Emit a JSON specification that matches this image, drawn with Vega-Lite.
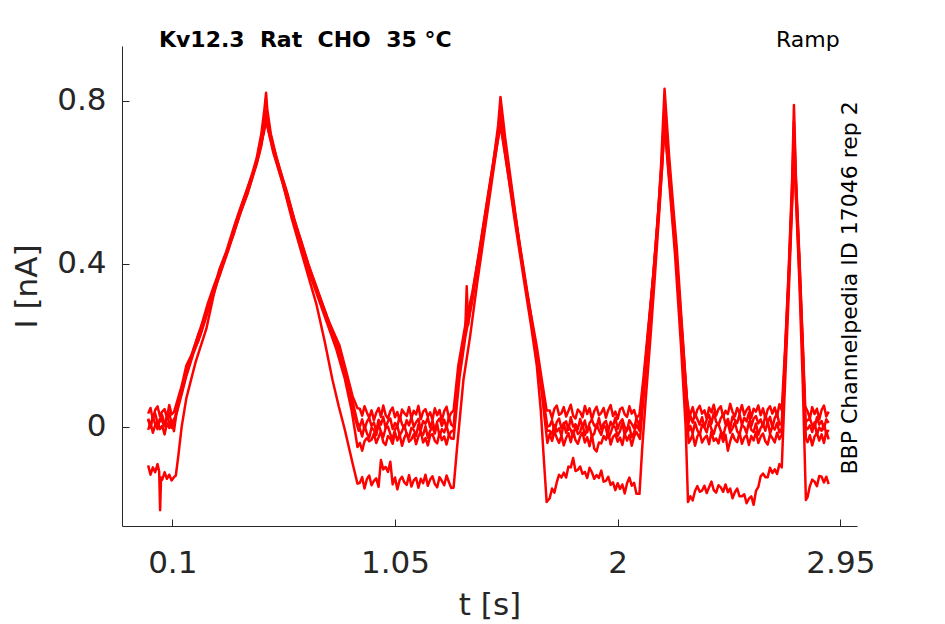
{
  "$schema": "https://vega.github.io/schema/vega-lite/v6.json",
  "autosize": "none",
  "width": 735,
  "height": 480,
  "padding": {"left": 122, "top": 46, "right": 88, "bottom": 98},
  "background": "white",
  "config": {
    "view": {"stroke": null},
    "axis": {
      "grid": false,
      "domainColor": "#262626",
      "tickColor": "#262626",
      "labelColor": "#262626",
      "titleColor": "#262626",
      "labelFont": "DejaVu Sans",
      "titleFont": "DejaVu Sans",
      "labelFontSize": 31,
      "titleFontSize": 31,
      "titleFontWeight": "normal",
      "tickSize": -7,
      "domainWidth": 1,
      "tickWidth": 1
    }
  },
  "layer": [
    {
      "data": {
        "values": [
          {"run":"A","t":-0.003,"I":0.032},{"run":"A","t":0.007,"I":0.046},{"run":"A","t":0.017,"I":0.018},{"run":"A","t":0.027,"I":0.041},{"run":"A","t":0.037,"I":0.05},{"run":"A","t":0.047,"I":0.026},{"run":"A","t":0.057,"I":0.037},{"run":"A","t":0.067,"I":0.043},{"run":"A","t":0.077,"I":0.022},{"run":"A","t":0.087,"I":0.053},{"run":"A","t":0.097,"I":0.03},{"run":"A","t":0.107,"I":0.036},
          {"run":"A","t":0.117,"I":0.055},{"run":"A","t":0.14,"I":0.1},{"run":"A","t":0.16,"I":0.15},{"run":"A","t":0.185,"I":0.18},{"run":"A","t":0.21,"I":0.225},{"run":"A","t":0.233,"I":0.26},{"run":"A","t":0.26,"I":0.31},{"run":"A","t":0.28,"I":0.34},{"run":"A","t":0.3,"I":0.385},{"run":"A","t":0.33,"I":0.43},{"run":"A","t":0.36,"I":0.485},{"run":"A","t":0.386,"I":0.53},{"run":"A","t":0.42,"I":0.585},{"run":"A","t":0.44,"I":0.62},{"run":"A","t":0.46,"I":0.66},{"run":"A","t":0.48,"I":0.72},{"run":"A","t":0.493,"I":0.78},{"run":"A","t":0.5,"I":0.82},
          {"run":"A","t":0.505,"I":0.78},{"run":"A","t":0.52,"I":0.72},{"run":"A","t":0.545,"I":0.66},{"run":"A","t":0.57,"I":0.61},{"run":"A","t":0.6,"I":0.55},{"run":"A","t":0.63,"I":0.49},{"run":"A","t":0.655,"I":0.445},{"run":"A","t":0.69,"I":0.38},{"run":"A","t":0.728,"I":0.32},{"run":"A","t":0.77,"I":0.255},{"run":"A","t":0.813,"I":0.2},{"run":"A","t":0.84,"I":0.14},{"run":"A","t":0.869,"I":0.075},{"run":"A","t":0.89,"I":0.045},
          {"run":"A","t":0.9,"I":0.044},{"run":"A","t":0.91,"I":0.027},{"run":"A","t":0.92,"I":0.05},{"run":"A","t":0.93,"I":0.035},{"run":"A","t":0.94,"I":0.022},{"run":"A","t":0.95,"I":0.04},{"run":"A","t":0.96,"I":0.016},{"run":"A","t":0.97,"I":0.034},{"run":"A","t":0.98,"I":0.046},{"run":"A","t":0.99,"I":0.024},{"run":"A","t":1.0,"I":0.052},{"run":"A","t":1.01,"I":0.029},{"run":"A","t":1.02,"I":0.02},{"run":"A","t":1.03,"I":0.038},{"run":"A","t":1.04,"I":0.047},{"run":"A","t":1.05,"I":0.023},{"run":"A","t":1.06,"I":0.036},{"run":"A","t":1.07,"I":0.014},{"run":"A","t":1.08,"I":0.042},{"run":"A","t":1.09,"I":0.033},{"run":"A","t":1.1,"I":0.026},{"run":"A","t":1.11,"I":0.048},{"run":"A","t":1.12,"I":0.021},{"run":"A","t":1.13,"I":0.039},{"run":"A","t":1.14,"I":0.03},{"run":"A","t":1.15,"I":0.051},{"run":"A","t":1.16,"I":0.018},{"run":"A","t":1.17,"I":0.037},{"run":"A","t":1.18,"I":0.043},{"run":"A","t":1.19,"I":0.025},{"run":"A","t":1.2,"I":0.035},{"run":"A","t":1.21,"I":0.017},{"run":"A","t":1.22,"I":0.045},{"run":"A","t":1.23,"I":0.028},{"run":"A","t":1.24,"I":0.041},{"run":"A","t":1.25,"I":0.015},{"run":"A","t":1.26,"I":0.038},{"run":"A","t":1.27,"I":0.049},{"run":"A","t":1.28,"I":0.022},{"run":"A","t":1.29,"I":0.034},
          {"run":"A","t":1.3,"I":0.04},{"run":"A","t":1.32,"I":0.15},{"run":"A","t":1.35,"I":0.25},{"run":"A","t":1.38,"I":0.33},{"run":"A","t":1.41,"I":0.43},{"run":"A","t":1.44,"I":0.54},{"run":"A","t":1.47,"I":0.65},{"run":"A","t":1.49,"I":0.74},{"run":"A","t":1.5,"I":0.81},
          {"run":"A","t":1.52,"I":0.71},{"run":"A","t":1.55,"I":0.58},{"run":"A","t":1.582,"I":0.445},{"run":"A","t":1.61,"I":0.34},{"run":"A","t":1.635,"I":0.26},{"run":"A","t":1.654,"I":0.2},{"run":"A","t":1.675,"I":0.12},{"run":"A","t":1.697,"I":0.04},
          {"run":"A","t":1.71,"I":0.04},{"run":"A","t":1.72,"I":0.021},{"run":"A","t":1.73,"I":0.044},{"run":"A","t":1.74,"I":0.052},{"run":"A","t":1.75,"I":0.029},{"run":"A","t":1.76,"I":0.033},{"run":"A","t":1.77,"I":0.048},{"run":"A","t":1.78,"I":0.025},{"run":"A","t":1.79,"I":0.039},{"run":"A","t":1.8,"I":0.054},{"run":"A","t":1.81,"I":0.027},{"run":"A","t":1.82,"I":0.02},{"run":"A","t":1.83,"I":0.042},{"run":"A","t":1.84,"I":0.036},{"run":"A","t":1.85,"I":0.023},{"run":"A","t":1.86,"I":0.051},{"run":"A","t":1.87,"I":0.031},{"run":"A","t":1.88,"I":0.045},{"run":"A","t":1.89,"I":0.018},{"run":"A","t":1.9,"I":0.038},{"run":"A","t":1.91,"I":0.049},{"run":"A","t":1.92,"I":0.028},{"run":"A","t":1.93,"I":0.034},{"run":"A","t":1.94,"I":0.046},{"run":"A","t":1.95,"I":0.022},{"run":"A","t":1.96,"I":0.041},{"run":"A","t":1.97,"I":0.053},{"run":"A","t":1.98,"I":0.026},{"run":"A","t":1.99,"I":0.037},{"run":"A","t":2.0,"I":0.019},{"run":"A","t":2.01,"I":0.043},{"run":"A","t":2.02,"I":0.047},{"run":"A","t":2.03,"I":0.03},{"run":"A","t":2.04,"I":0.024},{"run":"A","t":2.05,"I":0.05},{"run":"A","t":2.06,"I":0.032},{"run":"A","t":2.07,"I":0.041},{"run":"A","t":2.08,"I":0.021},
          {"run":"A","t":2.093,"I":0.03},{"run":"A","t":2.11,"I":0.12},{"run":"A","t":2.13,"I":0.24},{"run":"A","t":2.15,"I":0.36},{"run":"A","t":2.17,"I":0.5},{"run":"A","t":2.185,"I":0.64},{"run":"A","t":2.2,"I":0.83},
          {"run":"A","t":2.22,"I":0.66},{"run":"A","t":2.24,"I":0.52},{"run":"A","t":2.252,"I":0.44},{"run":"A","t":2.275,"I":0.24},{"run":"A","t":2.295,"I":0.07},{"run":"A","t":2.303,"I":0.04},
          {"run":"A","t":2.31,"I":0.03},{"run":"A","t":2.32,"I":0.048},{"run":"A","t":2.33,"I":0.023},{"run":"A","t":2.34,"I":0.042},{"run":"A","t":2.35,"I":0.051},{"run":"A","t":2.36,"I":0.032},{"run":"A","t":2.37,"I":0.04},{"run":"A","t":2.38,"I":0.019},{"run":"A","t":2.39,"I":0.047},{"run":"A","t":2.4,"I":0.035},{"run":"A","t":2.41,"I":0.054},{"run":"A","t":2.42,"I":0.027},{"run":"A","t":2.43,"I":0.043},{"run":"A","t":2.44,"I":0.05},{"run":"A","t":2.45,"I":0.024},{"run":"A","t":2.46,"I":0.039},{"run":"A","t":2.47,"I":0.031},{"run":"A","t":2.48,"I":0.056},{"run":"A","t":2.49,"I":0.036},{"run":"A","t":2.5,"I":0.025},{"run":"A","t":2.51,"I":0.046},{"run":"A","t":2.52,"I":0.033},{"run":"A","t":2.53,"I":0.053},{"run":"A","t":2.54,"I":0.029},{"run":"A","t":2.55,"I":0.041},{"run":"A","t":2.56,"I":0.049},{"run":"A","t":2.57,"I":0.022},{"run":"A","t":2.58,"I":0.044},{"run":"A","t":2.59,"I":0.037},{"run":"A","t":2.6,"I":0.052},{"run":"A","t":2.61,"I":0.028},{"run":"A","t":2.62,"I":0.045},{"run":"A","t":2.63,"I":0.02},{"run":"A","t":2.64,"I":0.042},{"run":"A","t":2.65,"I":0.05},{"run":"A","t":2.66,"I":0.032},{"run":"A","t":2.67,"I":0.047},{"run":"A","t":2.68,"I":0.026},{"run":"A","t":2.69,"I":0.055},
          {"run":"A","t":2.70,"I":0.04},{"run":"A","t":2.715,"I":0.2},{"run":"A","t":2.73,"I":0.39},{"run":"A","t":2.745,"I":0.62},{"run":"A","t":2.752,"I":0.79},{"run":"A","t":2.76,"I":0.62},{"run":"A","t":2.775,"I":0.42},{"run":"A","t":2.79,"I":0.2},{"run":"A","t":2.80,"I":0.05},
          {"run":"A","t":2.81,"I":0.038},{"run":"A","t":2.82,"I":0.02},{"run":"A","t":2.83,"I":0.048},{"run":"A","t":2.84,"I":0.031},{"run":"A","t":2.85,"I":0.044},{"run":"A","t":2.86,"I":0.018},{"run":"A","t":2.87,"I":0.041},{"run":"A","t":2.88,"I":0.052},{"run":"A","t":2.89,"I":0.025},{"run":"A","t":2.9,"I":0.037},

          {"run":"B","t":-0.003,"I":0.02},{"run":"B","t":0.007,"I":0.001},{"run":"B","t":0.017,"I":0.024},{"run":"B","t":0.027,"I":0.032},{"run":"B","t":0.037,"I":0.009},{"run":"B","t":0.047,"I":0.013},{"run":"B","t":0.057,"I":0.028},{"run":"B","t":0.067,"I":0.005},{"run":"B","t":0.077,"I":0.019},{"run":"B","t":0.087,"I":0.034},{"run":"B","t":0.097,"I":0.007},{"run":"B","t":0.107,"I":0.0},
          {"run":"B","t":0.117,"I":0.04},{"run":"B","t":0.14,"I":0.085},{"run":"B","t":0.16,"I":0.13},{"run":"B","t":0.19,"I":0.185},{"run":"B","t":0.21,"I":0.21},{"run":"B","t":0.24,"I":0.265},{"run":"B","t":0.27,"I":0.325},{"run":"B","t":0.3,"I":0.37},{"run":"B","t":0.33,"I":0.425},{"run":"B","t":0.36,"I":0.47},{"run":"B","t":0.39,"I":0.525},{"run":"B","t":0.42,"I":0.57},{"run":"B","t":0.45,"I":0.63},{"run":"B","t":0.47,"I":0.67},{"run":"B","t":0.49,"I":0.73},{"run":"B","t":0.502,"I":0.78},
          {"run":"B","t":0.51,"I":0.74},{"run":"B","t":0.53,"I":0.69},{"run":"B","t":0.56,"I":0.63},{"run":"B","t":0.59,"I":0.575},{"run":"B","t":0.62,"I":0.51},{"run":"B","t":0.65,"I":0.455},{"run":"B","t":0.68,"I":0.4},{"run":"B","t":0.72,"I":0.335},{"run":"B","t":0.76,"I":0.27},{"run":"B","t":0.8,"I":0.21},{"run":"B","t":0.84,"I":0.135},{"run":"B","t":0.87,"I":0.06},{"run":"B","t":0.89,"I":0.01},
          {"run":"B","t":0.9,"I":0.0},{"run":"B","t":0.91,"I":0.018},{"run":"B","t":0.92,"I":-0.007},{"run":"B","t":0.93,"I":0.012},{"run":"B","t":0.94,"I":0.021},{"run":"B","t":0.95,"I":0.002},{"run":"B","t":0.96,"I":0.01},{"run":"B","t":0.97,"I":-0.011},{"run":"B","t":0.98,"I":0.017},{"run":"B","t":0.99,"I":0.005},{"run":"B","t":1.0,"I":0.024},{"run":"B","t":1.01,"I":-0.003},{"run":"B","t":1.02,"I":0.013},{"run":"B","t":1.03,"I":0.02},{"run":"B","t":1.04,"I":-0.006},{"run":"B","t":1.05,"I":0.009},{"run":"B","t":1.06,"I":0.001},{"run":"B","t":1.07,"I":0.026},{"run":"B","t":1.08,"I":0.006},{"run":"B","t":1.09,"I":-0.005},{"run":"B","t":1.1,"I":0.016},{"run":"B","t":1.11,"I":0.003},{"run":"B","t":1.12,"I":0.023},{"run":"B","t":1.13,"I":-0.001},{"run":"B","t":1.14,"I":0.011},{"run":"B","t":1.15,"I":0.019},{"run":"B","t":1.16,"I":-0.008},{"run":"B","t":1.17,"I":0.014},{"run":"B","t":1.18,"I":0.007},{"run":"B","t":1.19,"I":0.022},{"run":"B","t":1.2,"I":-0.002},{"run":"B","t":1.21,"I":0.015},{"run":"B","t":1.22,"I":-0.01},{"run":"B","t":1.23,"I":0.012},{"run":"B","t":1.24,"I":0.02},{"run":"B","t":1.25,"I":0.002},{"run":"B","t":1.26,"I":0.017},{"run":"B","t":1.27,"I":-0.004},{"run":"B","t":1.28,"I":0.025},{"run":"B","t":1.29,"I":0.005},
          {"run":"B","t":1.3,"I":0.0},{"run":"B","t":1.32,"I":0.13},{"run":"B","t":1.35,"I":0.24},{"run":"B","t":1.356,"I":0.345},{"run":"B","t":1.362,"I":0.25},{"run":"B","t":1.39,"I":0.36},{"run":"B","t":1.42,"I":0.47},{"run":"B","t":1.45,"I":0.58},{"run":"B","t":1.48,"I":0.69},{"run":"B","t":1.502,"I":0.76},
          {"run":"B","t":1.53,"I":0.65},{"run":"B","t":1.56,"I":0.53},{"run":"B","t":1.59,"I":0.42},{"run":"B","t":1.62,"I":0.31},{"run":"B","t":1.65,"I":0.2},{"run":"B","t":1.675,"I":0.1},{"run":"B","t":1.7,"I":0.0},
          {"run":"B","t":1.71,"I":0.002},{"run":"B","t":1.72,"I":0.016},{"run":"B","t":1.73,"I":-0.012},{"run":"B","t":1.74,"I":0.011},{"run":"B","t":1.75,"I":0.02},{"run":"B","t":1.76,"I":-0.004},{"run":"B","t":1.77,"I":0.007},{"run":"B","t":1.78,"I":0.013},{"run":"B","t":1.79,"I":-0.008},{"run":"B","t":1.8,"I":0.023},{"run":"B","t":1.81,"I":0.0},{"run":"B","t":1.82,"I":0.006},{"run":"B","t":1.83,"I":-0.006},{"run":"B","t":1.84,"I":0.019},{"run":"B","t":1.85,"I":-0.002},{"run":"B","t":1.86,"I":0.015},{"run":"B","t":1.87,"I":-0.014},{"run":"B","t":1.88,"I":0.009},{"run":"B","t":1.89,"I":0.017},{"run":"B","t":1.9,"I":0.003},{"run":"B","t":1.91,"I":-0.003},{"run":"B","t":1.92,"I":0.021},{"run":"B","t":1.93,"I":-0.007},{"run":"B","t":1.94,"I":0.008},{"run":"B","t":1.95,"I":0.014},{"run":"B","t":1.96,"I":-0.01},{"run":"B","t":1.97,"I":0.012},{"run":"B","t":1.98,"I":0.001},{"run":"B","t":1.99,"I":0.022},{"run":"B","t":2.0,"I":-0.005},{"run":"B","t":2.01,"I":0.01},{"run":"B","t":2.02,"I":0.018},{"run":"B","t":2.03,"I":-0.001},{"run":"B","t":2.04,"I":-0.009},{"run":"B","t":2.05,"I":0.016},{"run":"B","t":2.06,"I":0.007},{"run":"B","t":2.07,"I":-0.004},{"run":"B","t":2.08,"I":0.02},
          {"run":"B","t":2.095,"I":0.0},{"run":"B","t":2.115,"I":0.13},{"run":"B","t":2.135,"I":0.26},{"run":"B","t":2.155,"I":0.39},{"run":"B","t":2.175,"I":0.54},{"run":"B","t":2.19,"I":0.66},{"run":"B","t":2.2,"I":0.77},
          {"run":"B","t":2.22,"I":0.63},{"run":"B","t":2.245,"I":0.46},{"run":"B","t":2.27,"I":0.27},{"run":"B","t":2.29,"I":0.11},{"run":"B","t":2.303,"I":0.01},
          {"run":"B","t":2.31,"I":0.027},{"run":"B","t":2.32,"I":0.01},{"run":"B","t":2.33,"I":0.033},{"run":"B","t":2.34,"I":0.018},{"run":"B","t":2.35,"I":0.005},{"run":"B","t":2.36,"I":0.023},{"run":"B","t":2.37,"I":-0.001},{"run":"B","t":2.38,"I":0.017},{"run":"B","t":2.39,"I":0.029},{"run":"B","t":2.4,"I":0.007},{"run":"B","t":2.41,"I":0.035},{"run":"B","t":2.42,"I":0.012},{"run":"B","t":2.43,"I":0.003},{"run":"B","t":2.44,"I":0.021},{"run":"B","t":2.45,"I":0.03},{"run":"B","t":2.46,"I":0.006},{"run":"B","t":2.47,"I":0.019},{"run":"B","t":2.48,"I":-0.003},{"run":"B","t":2.49,"I":0.025},{"run":"B","t":2.5,"I":0.016},{"run":"B","t":2.51,"I":0.009},{"run":"B","t":2.52,"I":0.031},{"run":"B","t":2.53,"I":0.004},{"run":"B","t":2.54,"I":0.022},{"run":"B","t":2.55,"I":0.013},{"run":"B","t":2.56,"I":0.034},{"run":"B","t":2.57,"I":0.001},{"run":"B","t":2.58,"I":0.02},{"run":"B","t":2.59,"I":0.026},{"run":"B","t":2.6,"I":0.008},{"run":"B","t":2.61,"I":0.018},{"run":"B","t":2.62,"I":0.0},{"run":"B","t":2.63,"I":0.028},{"run":"B","t":2.64,"I":0.011},{"run":"B","t":2.65,"I":0.024},{"run":"B","t":2.66,"I":-0.002},{"run":"B","t":2.67,"I":0.021},{"run":"B","t":2.68,"I":0.032},{"run":"B","t":2.69,"I":0.005},
          {"run":"B","t":2.70,"I":0.01},{"run":"B","t":2.715,"I":0.18},{"run":"B","t":2.73,"I":0.37},{"run":"B","t":2.745,"I":0.58},{"run":"B","t":2.752,"I":0.72},{"run":"B","t":2.76,"I":0.6},{"run":"B","t":2.775,"I":0.4},{"run":"B","t":2.79,"I":0.18},{"run":"B","t":2.80,"I":0.01},
          {"run":"B","t":2.81,"I":0.016},{"run":"B","t":2.82,"I":0.02},{"run":"B","t":2.83,"I":0.003},{"run":"B","t":2.84,"I":-0.003},{"run":"B","t":2.85,"I":0.023},{"run":"B","t":2.86,"I":0.005},{"run":"B","t":2.87,"I":0.014},{"run":"B","t":2.88,"I":-0.006},{"run":"B","t":2.89,"I":0.018},{"run":"B","t":2.9,"I":0.009},

          {"run":"E","t":-0.003,"I":0.017},{"run":"E","t":0.007,"I":-0.002},{"run":"E","t":0.017,"I":0.025},{"run":"E","t":0.027,"I":0.006},{"run":"E","t":0.037,"I":-0.006},{"run":"E","t":0.047,"I":0.02},{"run":"E","t":0.057,"I":0.013},{"run":"E","t":0.067,"I":0.001},{"run":"E","t":0.077,"I":0.028},{"run":"E","t":0.087,"I":0.009},{"run":"E","t":0.097,"I":-0.003},{"run":"E","t":0.107,"I":0.018},
          {"run":"E","t":0.117,"I":0.03},{"run":"E","t":0.14,"I":0.08},{"run":"E","t":0.16,"I":0.125},{"run":"E","t":0.19,"I":0.18},{"run":"E","t":0.22,"I":0.225},{"run":"E","t":0.25,"I":0.28},{"run":"E","t":0.28,"I":0.335},{"run":"E","t":0.31,"I":0.385},{"run":"E","t":0.34,"I":0.435},{"run":"E","t":0.37,"I":0.49},{"run":"E","t":0.4,"I":0.54},{"run":"E","t":0.43,"I":0.59},{"run":"E","t":0.46,"I":0.645},{"run":"E","t":0.48,"I":0.69},{"run":"E","t":0.5,"I":0.77},
          {"run":"E","t":0.51,"I":0.73},{"run":"E","t":0.54,"I":0.665},{"run":"E","t":0.57,"I":0.605},{"run":"E","t":0.6,"I":0.54},{"run":"E","t":0.63,"I":0.48},{"run":"E","t":0.66,"I":0.43},{"run":"E","t":0.7,"I":0.36},{"run":"E","t":0.74,"I":0.3},{"run":"E","t":0.78,"I":0.235},{"run":"E","t":0.82,"I":0.165},{"run":"E","t":0.85,"I":0.1},{"run":"E","t":0.88,"I":0.02},{"run":"E","t":0.895,"I":-0.01},
          {"run":"E","t":0.9,"I":-0.005},{"run":"E","t":0.91,"I":-0.024},{"run":"E","t":0.92,"I":0.003},{"run":"E","t":0.93,"I":-0.016},{"run":"E","t":0.94,"I":-0.028},{"run":"E","t":0.95,"I":-0.002},{"run":"E","t":0.96,"I":-0.009},{"run":"E","t":0.97,"I":-0.021},{"run":"E","t":0.98,"I":0.006},{"run":"E","t":0.99,"I":-0.013},{"run":"E","t":1.0,"I":-0.025},{"run":"E","t":1.01,"I":-0.004},{"run":"E","t":1.02,"I":0.0},{"run":"E","t":1.03,"I":-0.018},{"run":"E","t":1.04,"I":-0.03},{"run":"E","t":1.05,"I":-0.007},{"run":"E","t":1.06,"I":0.002},{"run":"E","t":1.07,"I":-0.022},{"run":"E","t":1.08,"I":-0.011},{"run":"E","t":1.09,"I":0.004},{"run":"E","t":1.1,"I":-0.019},{"run":"E","t":1.11,"I":-0.026},{"run":"E","t":1.12,"I":-0.003},{"run":"E","t":1.13,"I":-0.008},{"run":"E","t":1.14,"I":-0.023},{"run":"E","t":1.15,"I":0.005},{"run":"E","t":1.16,"I":-0.015},{"run":"E","t":1.17,"I":-0.02},{"run":"E","t":1.18,"I":0.001},{"run":"E","t":1.19,"I":-0.027},{"run":"E","t":1.2,"I":-0.01},{"run":"E","t":1.21,"I":-0.001},{"run":"E","t":1.22,"I":-0.017},{"run":"E","t":1.23,"I":0.007},{"run":"E","t":1.24,"I":-0.024},{"run":"E","t":1.25,"I":-0.006},{"run":"E","t":1.26,"I":-0.014},{"run":"E","t":1.27,"I":0.002},{"run":"E","t":1.28,"I":-0.021},{"run":"E","t":1.29,"I":-0.012},
          {"run":"E","t":1.3,"I":-0.01},{"run":"E","t":1.322,"I":0.13},{"run":"E","t":1.35,"I":0.23},{"run":"E","t":1.38,"I":0.32},{"run":"E","t":1.41,"I":0.425},{"run":"E","t":1.44,"I":0.535},{"run":"E","t":1.47,"I":0.645},{"run":"E","t":1.49,"I":0.72},{"run":"E","t":1.5,"I":0.78},
          {"run":"E","t":1.52,"I":0.69},{"run":"E","t":1.55,"I":0.57},{"run":"E","t":1.585,"I":0.43},{"run":"E","t":1.615,"I":0.32},{"run":"E","t":1.645,"I":0.21},{"run":"E","t":1.675,"I":0.1},{"run":"E","t":1.698,"I":-0.01},
          {"run":"E","t":1.71,"I":-0.01},{"run":"E","t":1.72,"I":-0.019},{"run":"E","t":1.73,"I":0.004},{"run":"E","t":1.74,"I":-0.012},{"run":"E","t":1.75,"I":-0.004},{"run":"E","t":1.76,"I":-0.022},{"run":"E","t":1.77,"I":0.009},{"run":"E","t":1.78,"I":-0.015},{"run":"E","t":1.79,"I":0.001},{"run":"E","t":1.8,"I":-0.008},{"run":"E","t":1.81,"I":-0.025},{"run":"E","t":1.82,"I":0.003},{"run":"E","t":1.83,"I":-0.018},{"run":"E","t":1.84,"I":-0.013},{"run":"E","t":1.85,"I":0.007},{"run":"E","t":1.86,"I":-0.021},{"run":"E","t":1.87,"I":-0.006},{"run":"E","t":1.88,"I":-0.001},{"run":"E","t":1.89,"I":-0.024},{"run":"E","t":1.9,"I":-0.017},{"run":"E","t":1.91,"I":0.006},{"run":"E","t":1.92,"I":-0.009},{"run":"E","t":1.93,"I":-0.02},{"run":"E","t":1.94,"I":0.004},{"run":"E","t":1.95,"I":-0.005},{"run":"E","t":1.96,"I":-0.028},{"run":"E","t":1.97,"I":-0.016},{"run":"E","t":1.98,"I":0.002},{"run":"E","t":1.99,"I":-0.002},{"run":"E","t":2.0,"I":-0.023},{"run":"E","t":2.01,"I":-0.011},{"run":"E","t":2.02,"I":0.008},{"run":"E","t":2.03,"I":-0.019},{"run":"E","t":2.04,"I":-0.007},{"run":"E","t":2.05,"I":0.0},{"run":"E","t":2.06,"I":-0.026},{"run":"E","t":2.07,"I":-0.014},{"run":"E","t":2.08,"I":0.005},
          {"run":"E","t":2.093,"I":-0.01},{"run":"E","t":2.113,"I":0.12},{"run":"E","t":2.133,"I":0.25},{"run":"E","t":2.153,"I":0.38},{"run":"E","t":2.173,"I":0.53},{"run":"E","t":2.19,"I":0.67},{"run":"E","t":2.2,"I":0.79},
          {"run":"E","t":2.22,"I":0.64},{"run":"E","t":2.245,"I":0.45},{"run":"E","t":2.27,"I":0.26},{"run":"E","t":2.29,"I":0.1},{"run":"E","t":2.303,"I":-0.01},
          {"run":"E","t":2.31,"I":0.002},{"run":"E","t":2.32,"I":-0.017},{"run":"E","t":2.33,"I":0.01},{"run":"E","t":2.34,"I":-0.009},{"run":"E","t":2.35,"I":-0.021},{"run":"E","t":2.36,"I":0.005},{"run":"E","t":2.37,"I":-0.002},{"run":"E","t":2.38,"I":-0.014},{"run":"E","t":2.39,"I":0.013},{"run":"E","t":2.4,"I":-0.006},{"run":"E","t":2.41,"I":-0.018},{"run":"E","t":2.42,"I":0.003},{"run":"E","t":2.43,"I":0.007},{"run":"E","t":2.44,"I":-0.011},{"run":"E","t":2.45,"I":-0.023},{"run":"E","t":2.46,"I":0.0},{"run":"E","t":2.47,"I":0.009},{"run":"E","t":2.48,"I":-0.015},{"run":"E","t":2.49,"I":-0.004},{"run":"E","t":2.5,"I":0.011},{"run":"E","t":2.51,"I":-0.012},{"run":"E","t":2.52,"I":-0.019},{"run":"E","t":2.53,"I":0.004},{"run":"E","t":2.54,"I":-0.001},{"run":"E","t":2.55,"I":-0.016},{"run":"E","t":2.56,"I":0.012},{"run":"E","t":2.57,"I":-0.008},{"run":"E","t":2.58,"I":-0.013},{"run":"E","t":2.59,"I":0.008},{"run":"E","t":2.6,"I":-0.02},{"run":"E","t":2.61,"I":-0.003},{"run":"E","t":2.62,"I":0.006},{"run":"E","t":2.63,"I":-0.01},{"run":"E","t":2.64,"I":0.014},{"run":"E","t":2.65,"I":-0.017},{"run":"E","t":2.66,"I":0.001},{"run":"E","t":2.67,"I":-0.007},{"run":"E","t":2.68,"I":0.009},{"run":"E","t":2.69,"I":-0.014},
          {"run":"E","t":2.70,"I":-0.005},{"run":"E","t":2.715,"I":0.19},{"run":"E","t":2.73,"I":0.38},{"run":"E","t":2.745,"I":0.6},{"run":"E","t":2.752,"I":0.75},{"run":"E","t":2.76,"I":0.61},{"run":"E","t":2.775,"I":0.41},{"run":"E","t":2.79,"I":0.19},{"run":"E","t":2.802,"I":0.0},
          {"run":"E","t":2.81,"I":-0.006},{"run":"E","t":2.82,"I":0.003},{"run":"E","t":2.83,"I":-0.013},{"run":"E","t":2.84,"I":0.011},{"run":"E","t":2.85,"I":-0.02},{"run":"E","t":2.86,"I":-0.002},{"run":"E","t":2.87,"I":-0.01},{"run":"E","t":2.88,"I":0.006},{"run":"E","t":2.89,"I":-0.017},{"run":"E","t":2.9,"I":-0.008},

          {"run":"C","t":-0.003,"I":-0.008},{"run":"C","t":0.007,"I":0.01},{"run":"C","t":0.017,"I":-0.015},{"run":"C","t":0.027,"I":0.004},{"run":"C","t":0.037,"I":0.013},{"run":"C","t":0.047,"I":-0.006},{"run":"C","t":0.057,"I":0.002},{"run":"C","t":0.067,"I":-0.019},{"run":"C","t":0.077,"I":0.009},{"run":"C","t":0.087,"I":-0.003},{"run":"C","t":0.097,"I":0.016},{"run":"C","t":0.107,"I":-0.011},
          {"run":"C","t":0.117,"I":0.03},{"run":"C","t":0.14,"I":0.09},{"run":"C","t":0.165,"I":0.14},{"run":"C","t":0.19,"I":0.19},{"run":"C","t":0.22,"I":0.24},{"run":"C","t":0.25,"I":0.3},{"run":"C","t":0.28,"I":0.35},{"run":"C","t":0.31,"I":0.395},{"run":"C","t":0.34,"I":0.44},{"run":"C","t":0.37,"I":0.5},{"run":"C","t":0.4,"I":0.55},{"run":"C","t":0.43,"I":0.6},{"run":"C","t":0.46,"I":0.65},{"run":"C","t":0.48,"I":0.7},{"run":"C","t":0.5,"I":0.75},
          {"run":"C","t":0.505,"I":0.74},{"run":"C","t":0.53,"I":0.68},{"run":"C","t":0.56,"I":0.62},{"run":"C","t":0.59,"I":0.56},{"run":"C","t":0.62,"I":0.5},{"run":"C","t":0.65,"I":0.445},{"run":"C","t":0.68,"I":0.385},{"run":"C","t":0.72,"I":0.32},{"run":"C","t":0.76,"I":0.255},{"run":"C","t":0.8,"I":0.19},{"run":"C","t":0.835,"I":0.12},{"run":"C","t":0.865,"I":0.04},{"run":"C","t":0.89,"I":-0.05},
          {"run":"C","t":0.9,"I":-0.04},{"run":"C","t":0.91,"I":-0.059},{"run":"C","t":0.92,"I":-0.036},{"run":"C","t":0.93,"I":-0.028},{"run":"C","t":0.94,"I":-0.036},{"run":"C","t":0.95,"I":-0.032},{"run":"C","t":0.96,"I":-0.017},{"run":"C","t":0.97,"I":-0.04},{"run":"C","t":0.98,"I":-0.026},{"run":"C","t":0.99,"I":-0.011},{"run":"C","t":1.0,"I":-0.038},{"run":"C","t":1.01,"I":-0.045},{"run":"C","t":1.02,"I":-0.023},{"run":"C","t":1.03,"I":-0.029},{"run":"C","t":1.04,"I":-0.042},{"run":"C","t":1.05,"I":-0.014},{"run":"C","t":1.06,"I":-0.034},{"run":"C","t":1.07,"I":-0.02},{"run":"C","t":1.08,"I":-0.047},{"run":"C","t":1.09,"I":-0.027},{"run":"C","t":1.1,"I":-0.016},{"run":"C","t":1.11,"I":-0.037},{"run":"C","t":1.12,"I":-0.031},{"run":"C","t":1.13,"I":-0.019},{"run":"C","t":1.14,"I":-0.043},{"run":"C","t":1.15,"I":-0.024},{"run":"C","t":1.16,"I":-0.012},{"run":"C","t":1.17,"I":-0.039},{"run":"C","t":1.18,"I":-0.028},{"run":"C","t":1.19,"I":-0.046},{"run":"C","t":1.2,"I":-0.022},{"run":"C","t":1.21,"I":-0.018},{"run":"C","t":1.22,"I":-0.035},{"run":"C","t":1.23,"I":-0.041},{"run":"C","t":1.24,"I":-0.015},{"run":"C","t":1.25,"I":-0.033},{"run":"C","t":1.26,"I":-0.024},{"run":"C","t":1.27,"I":-0.044},{"run":"C","t":1.28,"I":-0.02},{"run":"C","t":1.29,"I":-0.029},
          {"run":"C","t":1.3,"I":-0.03},{"run":"C","t":1.325,"I":0.12},{"run":"C","t":1.35,"I":0.22},{"run":"C","t":1.38,"I":0.31},{"run":"C","t":1.41,"I":0.42},{"run":"C","t":1.44,"I":0.53},{"run":"C","t":1.47,"I":0.64},{"run":"C","t":1.5,"I":0.74},
          {"run":"C","t":1.53,"I":0.63},{"run":"C","t":1.56,"I":0.52},{"run":"C","t":1.59,"I":0.41},{"run":"C","t":1.62,"I":0.3},{"run":"C","t":1.65,"I":0.19},{"run":"C","t":1.675,"I":0.09},{"run":"C","t":1.7,"I":-0.04},
          {"run":"C","t":1.71,"I":-0.018},{"run":"C","t":1.72,"I":-0.035},{"run":"C","t":1.73,"I":-0.012},{"run":"C","t":1.74,"I":-0.027},{"run":"C","t":1.75,"I":-0.04},{"run":"C","t":1.76,"I":-0.022},{"run":"C","t":1.77,"I":-0.046},{"run":"C","t":1.78,"I":-0.028},{"run":"C","t":1.79,"I":-0.016},{"run":"C","t":1.8,"I":-0.038},{"run":"C","t":1.81,"I":-0.01},{"run":"C","t":1.82,"I":-0.033},{"run":"C","t":1.83,"I":-0.042},{"run":"C","t":1.84,"I":-0.024},{"run":"C","t":1.85,"I":-0.015},{"run":"C","t":1.86,"I":-0.039},{"run":"C","t":1.87,"I":-0.026},{"run":"C","t":1.88,"I":-0.048},{"run":"C","t":1.89,"I":-0.02},{"run":"C","t":1.9,"I":-0.054},{"run":"C","t":1.91,"I":-0.061},{"run":"C","t":1.92,"I":-0.039},{"run":"C","t":1.93,"I":-0.041},{"run":"C","t":1.94,"I":-0.023},{"run":"C","t":1.95,"I":-0.032},{"run":"C","t":1.96,"I":-0.011},{"run":"C","t":1.97,"I":-0.044},{"run":"C","t":1.98,"I":-0.025},{"run":"C","t":1.99,"I":-0.019},{"run":"C","t":2.0,"I":-0.037},{"run":"C","t":2.01,"I":-0.027},{"run":"C","t":2.02,"I":-0.045},{"run":"C","t":2.03,"I":-0.017},{"run":"C","t":2.04,"I":-0.034},{"run":"C","t":2.05,"I":-0.021},{"run":"C","t":2.06,"I":-0.047},{"run":"C","t":2.07,"I":-0.024},{"run":"C","t":2.08,"I":-0.013},
          {"run":"C","t":2.095,"I":-0.03},{"run":"C","t":2.115,"I":0.1},{"run":"C","t":2.135,"I":0.24},{"run":"C","t":2.155,"I":0.37},{"run":"C","t":2.175,"I":0.52},{"run":"C","t":2.19,"I":0.64},{"run":"C","t":2.2,"I":0.75},
          {"run":"C","t":2.22,"I":0.61},{"run":"C","t":2.245,"I":0.44},{"run":"C","t":2.27,"I":0.25},{"run":"C","t":2.29,"I":0.08},{"run":"C","t":2.303,"I":-0.04},
          {"run":"C","t":2.31,"I":-0.033},{"run":"C","t":2.32,"I":-0.019},{"run":"C","t":2.33,"I":-0.047},{"run":"C","t":2.34,"I":-0.024},{"run":"C","t":2.35,"I":-0.015},{"run":"C","t":2.36,"I":-0.039},{"run":"C","t":2.37,"I":-0.028},{"run":"C","t":2.38,"I":-0.022},{"run":"C","t":2.39,"I":-0.043},{"run":"C","t":2.4,"I":-0.012},{"run":"C","t":2.41,"I":-0.035},{"run":"C","t":2.42,"I":-0.029},{"run":"C","t":2.43,"I":-0.041},{"run":"C","t":2.44,"I":-0.016},{"run":"C","t":2.45,"I":-0.037},{"run":"C","t":2.46,"I":-0.02},{"run":"C","t":2.47,"I":-0.059},{"run":"C","t":2.48,"I":-0.036},{"run":"C","t":2.49,"I":-0.018},{"run":"C","t":2.5,"I":-0.032},{"run":"C","t":2.51,"I":-0.038},{"run":"C","t":2.52,"I":-0.014},{"run":"C","t":2.53,"I":-0.042},{"run":"C","t":2.54,"I":-0.027},{"run":"C","t":2.55,"I":-0.021},{"run":"C","t":2.56,"I":-0.045},{"run":"C","t":2.57,"I":-0.023},{"run":"C","t":2.58,"I":-0.034},{"run":"C","t":2.59,"I":-0.013},{"run":"C","t":2.6,"I":-0.04},{"run":"C","t":2.61,"I":-0.025},{"run":"C","t":2.62,"I":-0.017},{"run":"C","t":2.63,"I":-0.036},{"run":"C","t":2.64,"I":-0.044},{"run":"C","t":2.65,"I":-0.019},{"run":"C","t":2.66,"I":-0.028},{"run":"C","t":2.67,"I":-0.039},{"run":"C","t":2.68,"I":-0.015},{"run":"C","t":2.69,"I":-0.031},
          {"run":"C","t":2.70,"I":-0.02},{"run":"C","t":2.715,"I":0.16},{"run":"C","t":2.73,"I":0.36},{"run":"C","t":2.745,"I":0.57},{"run":"C","t":2.752,"I":0.7},{"run":"C","t":2.76,"I":0.58},{"run":"C","t":2.775,"I":0.38},{"run":"C","t":2.79,"I":0.16},{"run":"C","t":2.803,"I":-0.03},
          {"run":"C","t":2.81,"I":-0.038},{"run":"C","t":2.82,"I":-0.021},{"run":"C","t":2.83,"I":-0.046},{"run":"C","t":2.84,"I":-0.024},{"run":"C","t":2.85,"I":-0.016},{"run":"C","t":2.86,"I":-0.034},{"run":"C","t":2.87,"I":-0.019},{"run":"C","t":2.88,"I":-0.04},{"run":"C","t":2.89,"I":-0.011},{"run":"C","t":2.9,"I":-0.031},

          {"run":"D","t":-0.003,"I":-0.095},{"run":"D","t":0.007,"I":-0.118},{"run":"D","t":0.017,"I":-0.1},{"run":"D","t":0.027,"I":-0.112},{"run":"D","t":0.037,"I":-0.092},{"run":"D","t":0.044,"I":-0.11},{"run":"D","t":0.048,"I":-0.205},{"run":"D","t":0.052,"I":-0.125},{"run":"D","t":0.057,"I":-0.13},{"run":"D","t":0.067,"I":-0.112},{"run":"D","t":0.077,"I":-0.128},{"run":"D","t":0.087,"I":-0.118},{"run":"D","t":0.097,"I":-0.132},{"run":"D","t":0.107,"I":-0.124},
          {"run":"D","t":0.115,"I":-0.12},{"run":"D","t":0.125,"I":-0.075},{"run":"D","t":0.14,"I":0.0},{"run":"D","t":0.16,"I":0.07},{"run":"D","t":0.2,"I":0.16},{"run":"D","t":0.245,"I":0.24},{"run":"D","t":0.275,"I":0.32},{"run":"D","t":0.3,"I":0.375},{"run":"D","t":0.34,"I":0.44},{"run":"D","t":0.38,"I":0.51},{"run":"D","t":0.42,"I":0.58},{"run":"D","t":0.46,"I":0.65},{"run":"D","t":0.49,"I":0.72},{"run":"D","t":0.5,"I":0.76},
          {"run":"D","t":0.505,"I":0.74},{"run":"D","t":0.53,"I":0.675},{"run":"D","t":0.57,"I":0.6},{"run":"D","t":0.61,"I":0.51},{"run":"D","t":0.655,"I":0.42},{"run":"D","t":0.69,"I":0.35},{"run":"D","t":0.715,"I":0.3},{"run":"D","t":0.75,"I":0.21},{"run":"D","t":0.783,"I":0.116},{"run":"D","t":0.81,"I":0.05},{"run":"D","t":0.835,"I":-0.005},{"run":"D","t":0.869,"I":-0.09},{"run":"D","t":0.89,"I":-0.14},
          {"run":"D","t":0.9,"I":-0.138},{"run":"D","t":0.91,"I":-0.124},{"run":"D","t":0.92,"I":-0.152},{"run":"D","t":0.93,"I":-0.129},{"run":"D","t":0.94,"I":-0.12},{"run":"D","t":0.95,"I":-0.144},{"run":"D","t":0.96,"I":-0.133},{"run":"D","t":0.97,"I":-0.127},{"run":"D","t":0.98,"I":-0.148},{"run":"D","t":0.99,"I":-0.082},{"run":"D","t":1.0,"I":-0.105},{"run":"D","t":1.01,"I":-0.099},{"run":"D","t":1.02,"I":-0.111},{"run":"D","t":1.03,"I":-0.086},{"run":"D","t":1.04,"I":-0.142},{"run":"D","t":1.05,"I":-0.125},{"run":"D","t":1.06,"I":-0.154},{"run":"D","t":1.07,"I":-0.131},{"run":"D","t":1.08,"I":-0.123},{"run":"D","t":1.09,"I":-0.137},{"run":"D","t":1.1,"I":-0.143},{"run":"D","t":1.11,"I":-0.119},{"run":"D","t":1.12,"I":-0.147},{"run":"D","t":1.13,"I":-0.132},{"run":"D","t":1.14,"I":-0.126},{"run":"D","t":1.15,"I":-0.15},{"run":"D","t":1.16,"I":-0.128},{"run":"D","t":1.17,"I":-0.139},{"run":"D","t":1.18,"I":-0.118},{"run":"D","t":1.19,"I":-0.145},{"run":"D","t":1.2,"I":-0.13},{"run":"D","t":1.21,"I":-0.122},{"run":"D","t":1.22,"I":-0.141},{"run":"D","t":1.23,"I":-0.149},{"run":"D","t":1.24,"I":-0.124},{"run":"D","t":1.25,"I":-0.133},{"run":"D","t":1.26,"I":-0.144},{"run":"D","t":1.27,"I":-0.12},{"run":"D","t":1.28,"I":-0.136},{"run":"D","t":1.29,"I":-0.151},
          {"run":"D","t":1.3,"I":-0.15},{"run":"D","t":1.315,"I":-0.05},{"run":"D","t":1.342,"I":0.115},{"run":"D","t":1.37,"I":0.22},{"run":"D","t":1.4,"I":0.35},{"run":"D","t":1.43,"I":0.47},{"run":"D","t":1.46,"I":0.59},{"run":"D","t":1.485,"I":0.69},{"run":"D","t":1.5,"I":0.75},
          {"run":"D","t":1.53,"I":0.63},{"run":"D","t":1.56,"I":0.51},{"run":"D","t":1.6,"I":0.36},{"run":"D","t":1.63,"I":0.25},{"run":"D","t":1.655,"I":0.15},{"run":"D","t":1.672,"I":0.04},{"run":"D","t":1.685,"I":-0.08},{"run":"D","t":1.697,"I":-0.185},
          {"run":"D","t":1.71,"I":-0.176},{"run":"D","t":1.72,"I":-0.152},{"run":"D","t":1.73,"I":-0.162},{"run":"D","t":1.74,"I":-0.137},{"run":"D","t":1.75,"I":-0.118},{"run":"D","t":1.76,"I":-0.125},{"run":"D","t":1.77,"I":-0.113},{"run":"D","t":1.78,"I":-0.125},{"run":"D","t":1.79,"I":-0.098},{"run":"D","t":1.8,"I":-0.1},{"run":"D","t":1.81,"I":-0.077},{"run":"D","t":1.82,"I":-0.109},{"run":"D","t":1.83,"I":-0.106},{"run":"D","t":1.84,"I":-0.098},{"run":"D","t":1.85,"I":-0.116},{"run":"D","t":1.86,"I":-0.111},{"run":"D","t":1.87,"I":-0.126},{"run":"D","t":1.88,"I":-0.101},{"run":"D","t":1.89,"I":-0.112},{"run":"D","t":1.9,"I":-0.128},{"run":"D","t":1.91,"I":-0.119},{"run":"D","t":1.92,"I":-0.126},{"run":"D","t":1.93,"I":-0.108},{"run":"D","t":1.94,"I":-0.135},{"run":"D","t":1.95,"I":-0.133},{"run":"D","t":1.96,"I":-0.123},{"run":"D","t":1.97,"I":-0.143},{"run":"D","t":1.98,"I":-0.137},{"run":"D","t":1.99,"I":-0.156},{"run":"D","t":2.0,"I":-0.139},{"run":"D","t":2.01,"I":-0.153},{"run":"D","t":2.02,"I":-0.142},{"run":"D","t":2.03,"I":-0.164},{"run":"D","t":2.04,"I":-0.139},{"run":"D","t":2.05,"I":-0.125},{"run":"D","t":2.06,"I":-0.145},{"run":"D","t":2.07,"I":-0.138},{"run":"D","t":2.08,"I":-0.165},
          {"run":"D","t":2.093,"I":-0.165},{"run":"D","t":2.105,"I":-0.05},{"run":"D","t":2.12,"I":0.07},{"run":"D","t":2.14,"I":0.22},{"run":"D","t":2.16,"I":0.38},{"run":"D","t":2.18,"I":0.55},{"run":"D","t":2.2,"I":0.74},
          {"run":"D","t":2.22,"I":0.6},{"run":"D","t":2.245,"I":0.42},{"run":"D","t":2.27,"I":0.2},{"run":"D","t":2.29,"I":0.0},{"run":"D","t":2.3,"I":-0.185},
          {"run":"D","t":2.31,"I":-0.171},{"run":"D","t":2.32,"I":-0.181},{"run":"D","t":2.33,"I":-0.158},{"run":"D","t":2.34,"I":-0.146},{"run":"D","t":2.35,"I":-0.16},{"run":"D","t":2.36,"I":-0.157},{"run":"D","t":2.37,"I":-0.145},{"run":"D","t":2.38,"I":-0.163},{"run":"D","t":2.39,"I":-0.149},{"run":"D","t":2.4,"I":-0.135},{"run":"D","t":2.41,"I":-0.156},{"run":"D","t":2.42,"I":-0.162},{"run":"D","t":2.43,"I":-0.144},{"run":"D","t":2.44,"I":-0.149},{"run":"D","t":2.45,"I":-0.16},{"run":"D","t":2.46,"I":-0.142},{"run":"D","t":2.47,"I":-0.161},{"run":"D","t":2.48,"I":-0.152},{"run":"D","t":2.49,"I":-0.176},{"run":"D","t":2.5,"I":-0.161},{"run":"D","t":2.51,"I":-0.152},{"run":"D","t":2.52,"I":-0.171},{"run":"D","t":2.53,"I":-0.171},{"run":"D","t":2.54,"I":-0.166},{"run":"D","t":2.55,"I":-0.188},{"run":"D","t":2.56,"I":-0.177},{"run":"D","t":2.57,"I":-0.171},{"run":"D","t":2.58,"I":-0.192},{"run":"D","t":2.59,"I":-0.158},{"run":"D","t":2.6,"I":-0.148},{"run":"D","t":2.61,"I":-0.122},{"run":"D","t":2.62,"I":-0.115},{"run":"D","t":2.63,"I":-0.124},{"run":"D","t":2.64,"I":-0.124},{"run":"D","t":2.65,"I":-0.101},{"run":"D","t":2.66,"I":-0.114},{"run":"D","t":2.67,"I":-0.105},{"run":"D","t":2.68,"I":-0.116},{"run":"D","t":2.69,"I":-0.092},
          {"run":"D","t":2.70,"I":-0.1},{"run":"D","t":2.71,"I":0.05},{"run":"D","t":2.73,"I":0.33},{"run":"D","t":2.745,"I":0.56},{"run":"D","t":2.752,"I":0.7},{"run":"D","t":2.76,"I":0.57},{"run":"D","t":2.775,"I":0.36},{"run":"D","t":2.79,"I":0.1},{"run":"D","t":2.803,"I":-0.18},
          {"run":"D","t":2.81,"I":-0.173},{"run":"D","t":2.82,"I":-0.146},{"run":"D","t":2.83,"I":-0.13},{"run":"D","t":2.84,"I":-0.135},{"run":"D","t":2.85,"I":-0.146},{"run":"D","t":2.86,"I":-0.121},{"run":"D","t":2.87,"I":-0.123},{"run":"D","t":2.88,"I":-0.137},{"run":"D","t":2.89,"I":-0.123},{"run":"D","t":2.9,"I":-0.141}
        ]
      },
      "mark": {"type": "line", "color": "#ff0000", "strokeWidth": 2.5, "strokeJoin": "round"},
      "encoding": {
        "x": {
          "field": "t", "type": "quantitative", "title": "t [s]",
          "scale": {"domain": [-0.1146, 3.021], "nice": false, "zero": false},
          "axis": {"values": [0.1, 1.05, 2, 2.95], "labelExpr": "datum.value == 0.1 ? '0.1' : datum.value == 1.05 ? '1.05' : datum.value == 2 ? '2' : '2.95'", "labelPadding": 29, "titlePadding": 12, "labelFlush": false}
        },
        "y": {
          "field": "I", "type": "quantitative", "title": "I [nA]",
          "scale": {"domain": [-0.244, 0.935], "nice": false, "zero": false},
          "axis": {"values": [0, 0.4, 0.8], "labelExpr": "datum.value == 0 ? '0' : datum.value == 0.4 ? '0.4' : '0.8'", "labelPadding": 23, "titlePadding": 13}
        },
        "detail": {"field": "run", "type": "nominal"}
      }
    },
    {
      "data": {"values": [{"label": "Kv12.3\u00a0 Rat\u00a0 CHO\u00a0 35 °C", "t": 0.043, "I": 0.933}]},
      "mark": {"type": "text", "align": "left", "baseline": "alphabetic", "font": "DejaVu Sans", "fontSize": 22, "fontWeight": "bold", "fill": "#000000"},
      "encoding": {"x": {"field": "t", "type": "quantitative"}, "y": {"field": "I", "type": "quantitative"}, "text": {"field": "label"}}
    },
    {
      "data": {"values": [{"label": "Ramp", "t": 2.6755, "I": 0.933}]},
      "mark": {"type": "text", "align": "left", "baseline": "alphabetic", "font": "DejaVu Sans", "fontSize": 22, "fill": "#000000"},
      "encoding": {"x": {"field": "t", "type": "quantitative"}, "y": {"field": "I", "type": "quantitative"}, "text": {"field": "label"}}
    },
    {
      "data": {"values": [{"label": "BBP Channelpedia ID 17046 rep 2", "t": 2.991, "I": 0.341}]},
      "mark": {"type": "text", "align": "center", "baseline": "middle", "angle": 270, "font": "DejaVu Sans", "fontSize": 22, "fill": "#000000"},
      "encoding": {"x": {"field": "t", "type": "quantitative"}, "y": {"field": "I", "type": "quantitative"}, "text": {"field": "label"}}
    }
  ]
}
